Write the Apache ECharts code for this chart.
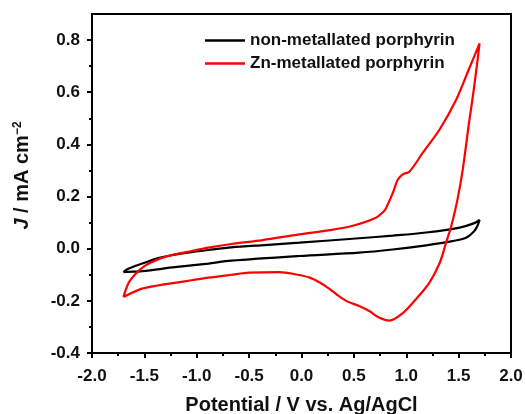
<!DOCTYPE html>
<html><head><meta charset="utf-8">
<script src="https://cdn.jsdelivr.net/npm/echarts@6/dist/echarts.min.js"></script>
<style>html,body{margin:0;padding:0;background:#fff}#c{width:525px;height:414px}</style>
</head><body><div id="c"></div>
<script>
const seriesNames = ['non-metallated porphyrin', 'Zn-metallated porphyrin'];

const nonMetalPotential = [-1.70, -1.66, -1.52, -1.37, -1.21, -1.05, -0.89, -0.67, -0.35, -0.02, 0.55, 0.87, 1.19, 1.51, 1.65, 1.70,
  1.68, 1.65, 1.57, 1.44, 1.19, 0.87, 0.55, -0.02, -0.67, -0.89, -1.21, -1.52, -1.66, -1.70];
const nonMetalCurrent = [-0.090, -0.078, -0.057, -0.036, -0.023, -0.013, -0.005, 0.005, 0.014, 0.023, 0.040, 0.050, 0.062, 0.081, 0.098, 0.110,
  0.088, 0.068, 0.042, 0.029, 0.013, -0.003, -0.015, -0.028, -0.046, -0.057, -0.071, -0.086, -0.089, -0.090];

const znPotential = [-1.70, -1.65, -1.59, -1.50, -1.37, -1.21, -1.05, -0.89, -0.67, -0.37, -0.02, 0.27, 0.49, 0.71, 0.79, 0.81, 0.87, 0.92, 0.97, 1.03, 1.16, 1.32, 1.48, 1.60, 1.70,
  1.65, 1.60, 1.54, 1.49, 1.43, 1.38, 1.32, 1.22, 1.09, 0.97, 0.84, 0.74, 0.65, 0.55, 0.44, 0.35, 0.26, 0.17, 0.08, -0.05, -0.21, -0.50, -0.67, -0.89, -1.05, -1.21, -1.37, -1.53, -1.70];
const znCurrent = [-0.185, -0.131, -0.099, -0.067, -0.041, -0.022, -0.009, 0.004, 0.018, 0.033, 0.055, 0.071, 0.088, 0.119, 0.145, 0.158, 0.212, 0.265, 0.286, 0.295, 0.369, 0.458, 0.574, 0.690, 0.787,
  0.625, 0.485, 0.305, 0.190, 0.087, 0.023, -0.054, -0.131, -0.195, -0.246, -0.276, -0.264, -0.240, -0.220, -0.203, -0.180, -0.152, -0.129, -0.111, -0.099, -0.090, -0.092, -0.100, -0.111, -0.121, -0.131, -0.141, -0.154, -0.185];

const yTickValues = [-0.4, -0.2, 0.0, 0.2, 0.4, 0.6, 0.8];
const yMinorTickValues = [-0.3, -0.1, 0.1, 0.3, 0.5, 0.7];

const xTitle = 'Potential / V vs. Ag/AgCl';
const FONT = 'Arial, "Liberation Sans", sans-serif';

function zip(a, b) { return a.map((v, i) => [v, b[i]]); }

const chart = echarts.init(document.getElementById('c'), null, { renderer: 'canvas' });
chart.setOption({
  animation: false,
  backgroundColor: '#fff',
  grid: { left: 92, right: 14, top: 14, bottom: 61, outerBoundsMode: 'none', containLabel: false,
    show: true, borderColor: '#000', borderWidth: 2, backgroundColor: 'transparent' },
  legend: {
    orient: 'vertical', left: 205, top: 32, itemGap: 6, padding: 0,
    icon: 'rect', itemWidth: 40, itemHeight: 2.5,
    textStyle: { fontFamily: FONT, fontSize: 17, fontWeight: 'bold', color: '#111' },
    data: seriesNames
  },
  xAxis: {
    type: 'value', min: -2, max: 2, interval: 0.5,
    name: xTitle, nameLocation: 'middle', nameGap: 42,
    nameTextStyle: { fontFamily: FONT, fontSize: 20, fontWeight: 'bold', color: '#111' },
    axisLine: { show: true, onZero: false, lineStyle: { color: '#000', width: 2 } },
    axisTick: { show: true, inside: false, length: 5, lineStyle: { color: '#000', width: 2 } },
    minorTick: { show: true, splitNumber: 2, length: 3, lineStyle: { color: '#000', width: 2 } },
    axisLabel: { fontFamily: FONT, fontSize: 17, fontWeight: 'bold', color: '#111', margin: 15, formatter: v => v.toFixed(1) },
    splitLine: { show: false }, minorSplitLine: { show: false }
  },
  yAxis: [{
    type: 'value', min: -0.4, max: 0.9, interval: 0.2, position: 'left',
    name: '{i|J} / mA cm{s|−2}', nameLocation: 'middle', nameGap: 60, nameRotate: 90,
    nameTextStyle: {
      fontFamily: FONT, fontSize: 20, fontWeight: 'bold', color: '#111', padding: [0, 0, 0, 16],
      rich: {
        i: { fontFamily: FONT, fontSize: 20, fontWeight: 'bold', fontStyle: 'italic', color: '#111' },
        s: { fontFamily: FONT, fontSize: 12, fontWeight: 'bold', color: '#111', verticalAlign: 'top', padding: [0, 0, 8, 0] }
      }
    },
    axisLine: { show: true, onZero: false, lineStyle: { color: '#000', width: 2 } },
    axisTick: { show: true, inside: false, length: 5, customValues: yTickValues, lineStyle: { color: '#000', width: 2 } },
    axisLabel: { fontFamily: FONT, fontSize: 17, fontWeight: 'bold', color: '#111', margin: 12, customValues: yTickValues, formatter: v => v.toFixed(1) },
    splitLine: { show: false }
  }, {
    type: 'value', min: -0.4, max: 0.9, interval: 0.2, position: 'left', offset: 0,
    axisLine: { show: false, onZero: false },
    axisTick: { show: true, inside: false, length: 3, customValues: yMinorTickValues, lineStyle: { color: '#000', width: 2 } },
    axisLabel: { show: false },
    splitLine: { show: false }
  }],
  series: [{
    name: seriesNames[0], type: 'line', data: zip(nonMetalPotential, nonMetalCurrent),
    showSymbol: false, smooth: 0.3, color: '#000', lineStyle: { color: '#000', width: 2.2 }
  }, {
    name: seriesNames[1], type: 'line', data: zip(znPotential, znCurrent),
    showSymbol: false, smooth: 0.3, color: '#ff0000', lineStyle: { color: '#ff0000', width: 2.2 }
  }]
});
</script></body></html>
